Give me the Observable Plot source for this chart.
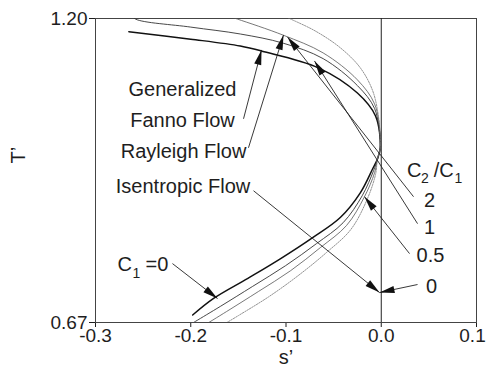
<!DOCTYPE html>
<html><head><meta charset="utf-8">
<script src="https://cdn.jsdelivr.net/npm/d3@7"></script>
<script src="https://cdn.jsdelivr.net/npm/@observablehq/plot@0.6"></script>
<style>body{margin:0;background:#fff}</style>
</head><body><div id="chart"></div>
<script>
// ---- data (s', T') ----
const curveThick = [[-0.265,1.177],[-0.200,1.164],[-0.148,1.152],[-0.125,1.143],[-0.066,1.114],[-0.025,1.070],[-0.006,1.030],[-0.001,0.975],
  [-0.004,0.955],[-0.009,0.938],[-0.022,0.896],[-0.043,0.853],[-0.072,0.818],[-0.106,0.781],[-0.140,0.747],[-0.176,0.712],[-0.198,0.683]];
const curveSecond = [[-0.262,1.206],[-0.258,1.199],[-0.200,1.185],[-0.148,1.173],[-0.103,1.157],[-0.061,1.130],[-0.025,1.083],[-0.007,1.043],[-0.001,0.987],[-0.001,0.975],
  [-0.004,0.955],[-0.008,0.935],[-0.020,0.891],[-0.040,0.844],[-0.068,0.8075],[-0.1005,0.769],[-0.135,0.733],[-0.169,0.698],[-0.195,0.672],[-0.202,0.665]];
const curveThird = [[-0.160,1.204],[-0.151,1.199],[-0.103,1.171],[-0.061,1.140],[-0.025,1.093],[-0.007,1.051],[-0.001,0.996],[-0.001,0.975],
  [-0.004,0.955],[-0.007,0.931],[-0.018,0.888],[-0.0365,0.839],[-0.064,0.8005],[-0.095,0.7605],[-0.129,0.724],[-0.1625,0.689],[-0.1845,0.6665]];
const curveOuter = [[-0.101,1.204],[-0.095,1.199],[-0.069,1.178],[-0.043,1.149],[-0.022,1.114],[-0.009,1.074],[-0.003,1.030],[-0.001,0.987],[-0.001,0.975],
  [-0.004,0.955],[-0.006,0.928],[-0.0155,0.882],[-0.032,0.832],[-0.0575,0.792],[-0.087,0.752],[-0.118,0.715],[-0.150,0.682],[-0.167,0.665]];
const isentropicS = [0];

const xTicks = [-0.3, -0.2, -0.1, 0.0, 0.1];
const yTicks = [0.67, 1.20];

// annotation texts and anchor points (data coordinates)
const flowLabels = ["Generalized", "Fanno Flow", "Rayleigh Flow", "Isentropic Flow"];
const flowLabelS = [-0.2087, -0.2087, -0.2076, -0.2081];
const flowLabelT = [1.0755, 1.0216, 0.9676, 0.9067];

const ratioLabels = ["2", "1", "0.5", "0"];
const ratioLabelS = [0.0507, 0.0507, 0.0517, 0.0528];
const ratioLabelT = [0.8823, 0.8353, 0.7866, 0.7326];

// leader lines: start (near label) -> arrow tip
const leaderFrom = [[-0.1446,1.0251],[-0.1394,0.9746],[0.0339,0.8893],[0.0381,0.8423],[0.0297,0.7901],[0.0381,0.7362],[-0.1341,0.8997],[-0.2192,0.7727]];
const leaderTo   = [[-0.1257,1.1452],[-0.1026,1.1713],[-0.0984,1.1678],[-0.0701,1.1260],[-0.0176,0.8893],[-0.0018,0.7222],[-0.0018,0.7222],[-0.1719,0.7118]];

// ---- styles ----
const curveStyles = [
  {pts: curveThick, stroke: "#111", strokeWidth: 1.5},
  {pts: curveSecond, stroke: "#333", strokeWidth: 0.9},
  {pts: curveThird, stroke: "#555", strokeWidth: 0.8},
  {pts: curveOuter, stroke: "#777", strokeWidth: 0.8, strokeDasharray: "1.5,1.2"}
];
const FONT = "'Liberation Sans', Arial, Helvetica, sans-serif";
const ink = "#1e1e1e";

const leaders = leaderFrom.map((a, i) => ({x1: a[0], y1: a[1], x2: leaderTo[i][0], y2: leaderTo[i][1]}));
const flowRows = flowLabels.map((t, i) => ({t, s: flowLabelS[i], T: flowLabelT[i]}));
const ratioRows = ratioLabels.map((t, i) => ({t, s: ratioLabelS[i], T: ratioLabelT[i]}));

const marks = [
  Plot.frame({stroke: "#444"}),
  Plot.ruleX(isentropicS, {stroke: "#222", strokeWidth: 1}),
  ...curveStyles.map(c => Plot.line(c.pts, {
    x: d => d[0], y: d => d[1], curve: "catmull-rom", clip: true,
    stroke: c.stroke, strokeWidth: c.strokeWidth, strokeDasharray: c.strokeDasharray
  })),
  Plot.link(leaders, {x1: "x1", y1: "y1", x2: "x2", y2: "y2", stroke: "#222", strokeWidth: 0.9}),
  Plot.text(flowRows, {x: "s", y: "T", text: "t", fontSize: 20, fill: ink}),
  Plot.text(ratioRows, {x: "s", y: "T", text: "t", fontSize: 20, fill: ink}),
  // C2 / C1
  Plot.text(["C"], {x: () => 0.0270, y: () => 0.9346, text: d => d, textAnchor: "start", fontSize: 20, fill: ink}),
  Plot.text(["2"], {x: () => 0.0418, y: () => 0.9207, text: d => d, textAnchor: "start", fontSize: 14, fill: ink}),
  Plot.text(["/C"], {x: () => 0.0550, y: () => 0.9346, text: d => d, textAnchor: "start", fontSize: 20, fill: ink}),
  Plot.text(["1"], {x: () => 0.0770, y: () => 0.9207, text: d => d, textAnchor: "start", fontSize: 14, fill: ink}),
  // C1 = 0
  Plot.text(["C"], {x: () => -0.2769, y: () => 0.771, text: d => d, textAnchor: "start", fontSize: 20, fill: ink}),
  Plot.text(["1"], {x: () => -0.2612, y: () => 0.7553, text: d => d, textAnchor: "start", fontSize: 14, fill: ink}),
  Plot.text(["=0"], {x: () => -0.2475, y: () => 0.771, text: d => d, textAnchor: "start", fontSize: 20, fill: ink}),
  // axis titles
  Plot.text(["s\u2019"], {frameAnchor: "bottom", dy: 41, text: d => d, fontSize: 20, fill: ink}),
  Plot.text(["T\u2019"], {frameAnchor: "left", dx: -77, dy: -7, rotate: -90, text: d => d, fontSize: 20, fill: ink})
];

const plot = Plot.plot({
  width: 488, height: 372,
  marginLeft: 95, marginRight: 12, marginTop: 18, marginBottom: 50,
  style: {fontFamily: FONT, fontSize: "19px", color: ink, background: "#fff", overflow: "visible"},
  x: {domain: [-0.3, 0.1], ticks: xTicks, tickFormat: d => d.toFixed(1), tickSize: 5, tickPadding: 1, label: null},
  y: {domain: [0.67, 1.20], ticks: yTicks, tickFormat: d => d.toFixed(2), tickSize: 6, tickPadding: 2, label: null},
  marks
});

// filled arrowheads on leader lines
const svg = d3.select(plot);
const defs = svg.append("defs");
defs.append("marker").attr("id", "ahead").attr("viewBox", "-16 -5 17 10")
  .attr("markerUnits", "userSpaceOnUse").attr("markerWidth", 17).attr("markerHeight", 10)
  .attr("refX", 0).attr("refY", 0).attr("orient", "auto")
  .append("path").attr("d", "M0,0L-15,-3.6L-15,3.6Z").attr("fill", "#111");
svg.selectAll('g[aria-label="link"] path').attr("marker-end", "url(#ahead)");
// keep the last x tick label inside the window
svg.selectAll("text").filter(function() { return this.textContent === "0.1"; }).attr("dx", -4);

document.getElementById("chart").appendChild(plot);
</script>
</body></html>
